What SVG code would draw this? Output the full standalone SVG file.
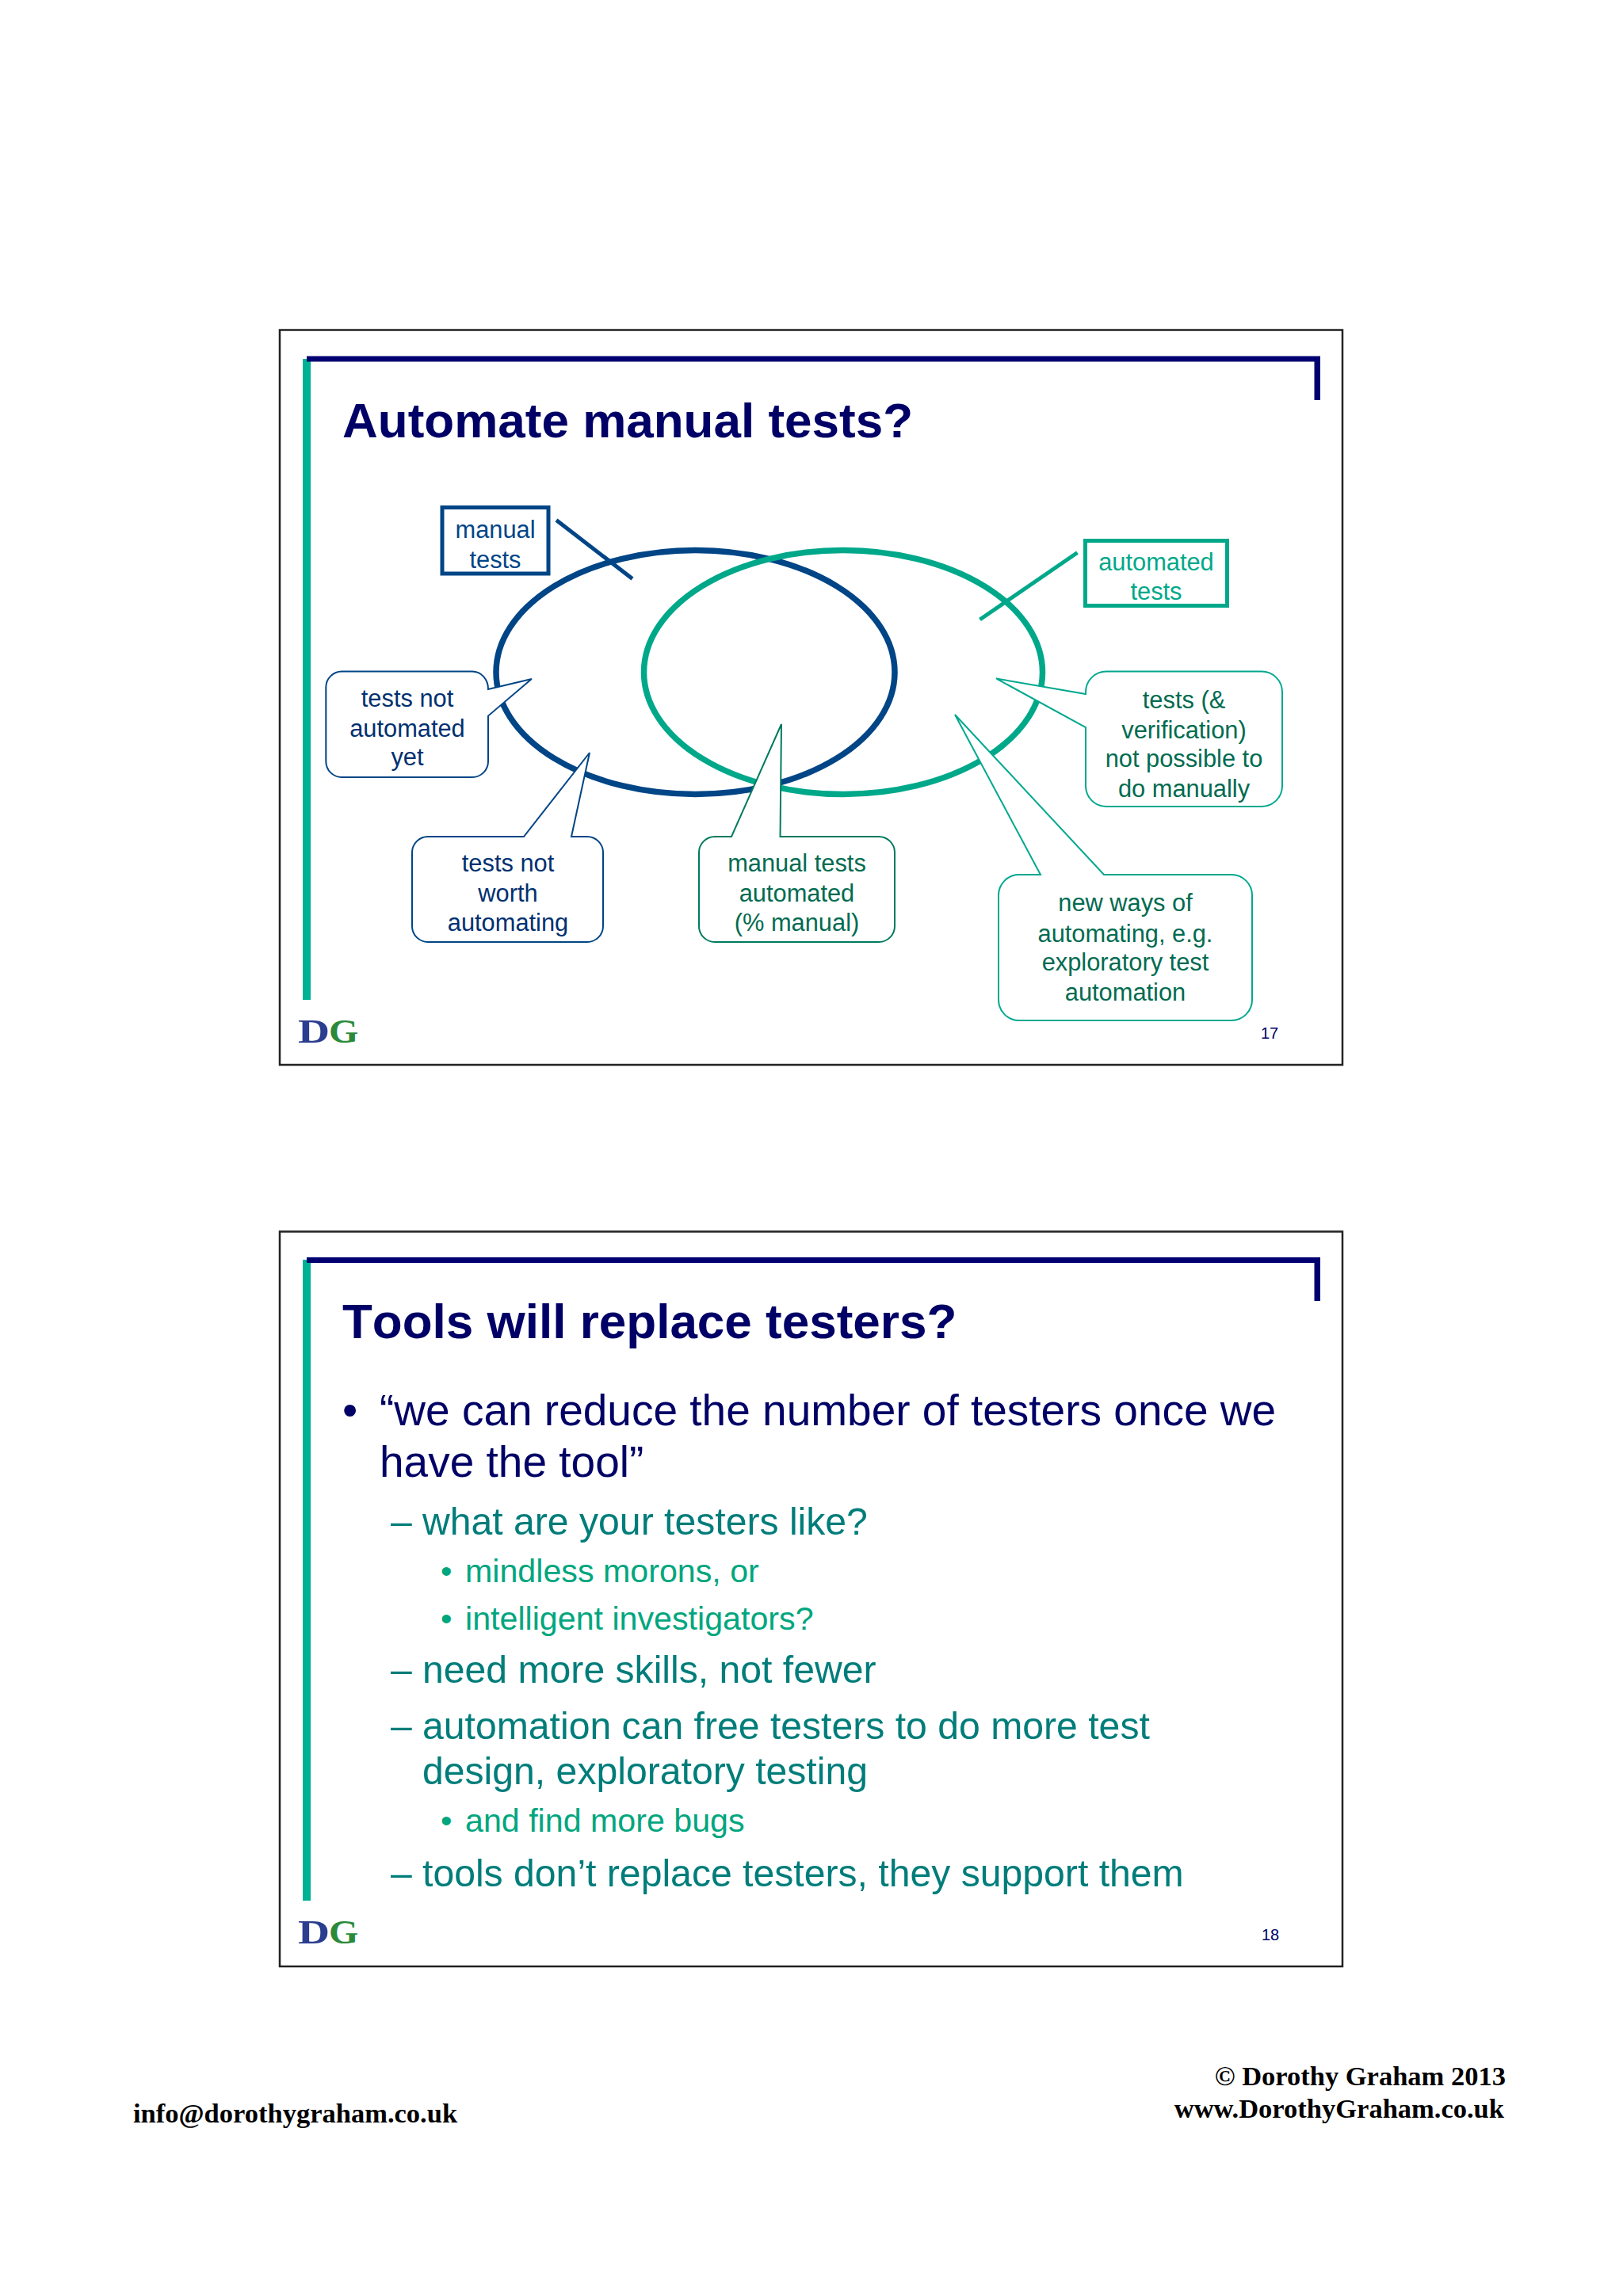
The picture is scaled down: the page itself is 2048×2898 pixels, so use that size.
<svg xmlns="http://www.w3.org/2000/svg" width="2048" height="2898" viewBox="0 0 2048 2898">
<style>
text{font-family:"Liberation Sans",Arial,sans-serif;font-kerning:none}
.frame{fill:#fff;stroke:#222;stroke-width:2.5}
.gb{fill:#00b294}
.nb{fill:#000070}
.title{font-size:62px;font-weight:bold;fill:#000066}
.num{font-size:20px;fill:#000066}
.d{font-family:"Liberation Serif","Times New Roman",serif;font-weight:bold;font-size:42px}
.foot{font-family:"Liberation Serif","Times New Roman",serif;font-weight:bold;font-size:34.5px;fill:#000;font-kerning:normal}
.c{font-size:30.8px;text-anchor:middle}
.bl{fill:#003070}.gr{fill:#006b50}
.bt{fill:#004586}.gt{fill:#00a88a}
.cb{fill:#fff;stroke:#004586;stroke-width:2}
.cg{fill:#fff;stroke:#00a88f;stroke-width:2}
.cd{fill:#fff;stroke:#007a5e;stroke-width:2}
.box{fill:#fff;stroke-width:5}
.ell{fill:none;stroke-width:7.5}
.l1{font-size:55px;fill:#000066}
.l2{font-size:48.15px;fill:#007d7a}
.l3{font-size:41.2px;fill:#00a67e}
</style>
<rect width="2048" height="2898" fill="#fff"/>
<g id="slide-17">
  <rect class="frame" x="353" y="416.5" width="1341" height="927.5"/>
  <rect class="gb" x="382" y="453" width="10" height="809"/>
  <rect class="nb" x="387" y="449.5" width="1279" height="7"/>
  <rect class="nb" x="1658.5" y="453" width="7.5" height="52"/>
  <text class="title" x="432" y="551.5">Automate manual tests?</text>
  <g id="logo-17"><text class="d" transform="translate(376 1316) scale(1.32 1)" fill="#2a3d8f">D</text><text class="d" transform="translate(415 1316) scale(1.14 1)" fill="#2a8a3a">G</text></g>
  <text class="num" x="1602" y="1311" text-anchor="middle">17</text>
</g>
<g id="ellipse-manual"><ellipse class="ell" cx="877.5" cy="848.5" rx="251.5" ry="154" stroke="#004586"/></g>
<g id="ellipse-automated"><ellipse class="ell" cx="1064" cy="848.5" rx="251.5" ry="154" stroke="#00a88a"/></g>
<g id="connectors" fill="none" stroke-width="5">
  <line x1="702" y1="656.5" x2="798" y2="730.5" stroke="#004586"/>
  <line x1="1236.5" y1="782" x2="1359.5" y2="697.5" stroke="#00a88a"/>
</g>
<g id="box-manual"><rect class="box" x="558" y="640.5" width="134" height="83.5" stroke="#004586"/><text class="c bt" x="625" y="678.5">manual</text><text class="c bt" x="625" y="716.5">tests</text></g>
<g id="box-automated"><rect class="box" x="1369.5" y="682.5" width="179" height="82" stroke="#00a88a"/><text class="c gt" x="1459" y="720">automated</text><text class="c gt" x="1459" y="757">tests</text></g>
<g id="callout-not-yet"><path class="cb" d="M431.3 847.5H596A20 22 0 0 1 616 870L670.8 857L616 903.6V961A20 20 0 0 1 596 981H431.3A20 20 0 0 1 411.3 961V867.5A20 20 0 0 1 431.3 847.5Z"/><text class="c bl" x="514" y="892">tests not</text><text class="c bl" x="514" y="929.5">automated</text><text class="c bl" x="514" y="966">yet</text></g>
<g id="callout-not-worth"><path class="cb" d="M540 1056H661L744 950L721 1056H741A20 20 0 0 1 761 1076V1169A20 20 0 0 1 741 1189H540A20 20 0 0 1 520 1169V1076A20 20 0 0 1 540 1056Z"/><text class="c bl" x="641" y="1100">tests not</text><text class="c bl" x="641" y="1138">worth</text><text class="c bl" x="641" y="1175">automating</text></g>
<g id="callout-automated"><path class="cd" d="M902 1056H923L986 914L984.5 1056H1109A20 20 0 0 1 1129 1076V1169A20 20 0 0 1 1109 1189H902A20 20 0 0 1 882 1169V1076A20 20 0 0 1 902 1056Z"/><text class="c gr" x="1005.5" y="1100">manual tests</text><text class="c gr" x="1005.5" y="1138">automated</text><text class="c gr" x="1005.5" y="1175">(% manual)</text></g>
<g id="callout-not-possible"><path class="cg" d="M1396 847.5H1592A26 26 0 0 1 1618 873.5V992A26 26 0 0 1 1592 1018H1396A26 26 0 0 1 1370 992V918L1257 856.4L1370 876V873.5A26 26 0 0 1 1396 847.5Z"/><text class="c gr" x="1494" y="894">tests (&amp;</text><text class="c gr" x="1494" y="932">verification)</text><text class="c gr" x="1494" y="968">not possible to</text><text class="c gr" x="1494" y="1006">do manually</text></g>
<g id="callout-new-ways"><path class="cg" d="M1286 1104H1313L1205 902L1393 1104H1554A26 26 0 0 1 1580 1130V1262A26 26 0 0 1 1554 1288H1286A26 26 0 0 1 1260 1262V1130A26 26 0 0 1 1286 1104Z"/><text class="c gr" x="1420" y="1150">new ways of</text><text class="c gr" x="1420" y="1188.5">automating, e.g.</text><text class="c gr" x="1420" y="1225">exploratory test</text><text class="c gr" x="1420" y="1263">automation</text></g>
<g id="slide-18">
  <rect class="frame" x="353" y="1554.5" width="1341" height="927.5"/>
  <rect class="gb" x="382" y="1590" width="10" height="809"/>
  <rect class="nb" x="387" y="1587" width="1279" height="7"/>
  <rect class="nb" x="1658.5" y="1590" width="7.5" height="52"/>
  <text class="title" x="432" y="1688.5">Tools will replace testers?</text>
  <text class="l1" x="432" y="1799">•</text>
  <text class="l1" x="479" y="1799">“we can reduce the number of testers once we</text>
  <text class="l1" x="479" y="1864">have the tool”</text>
  <text class="l2" x="493" y="1936.5">–</text><text class="l2" x="533" y="1936.5">what are your testers like?</text>
  <text class="l3" x="556" y="1997">•</text><text class="l3" x="587" y="1997">mindless morons, or</text>
  <text class="l3" x="556" y="2057">•</text><text class="l3" x="587" y="2057">intelligent investigators?</text>
  <text class="l2" x="493" y="2124">–</text><text class="l2" x="533" y="2124">need more skills, not fewer</text>
  <text class="l2" x="493" y="2195">–</text><text class="l2" x="533" y="2195">automation can free testers to do more test</text>
  <text class="l2" x="533" y="2252">design, exploratory testing</text>
  <text class="l3" x="556" y="2311.5">•</text><text class="l3" x="587" y="2311.5">and find more bugs</text>
  <text class="l2" x="493" y="2380.5">–</text><text class="l2" x="533" y="2380.5">tools don’t replace testers, they support them</text>
  <g id="logo-18"><text class="d" transform="translate(376 2453) scale(1.32 1)" fill="#2a3d8f">D</text><text class="d" transform="translate(415 2453) scale(1.14 1)" fill="#2a8a3a">G</text></g>
  <text class="num" x="1603" y="2449" text-anchor="middle">18</text>
</g>
<g id="footer">
  <text class="foot" x="168" y="2679">info@dorothygraham.co.uk</text>
  <text class="foot" x="1900" y="2632" text-anchor="end">© Dorothy Graham 2013</text>
  <text class="foot" x="1898" y="2673" text-anchor="end">www.DorothyGraham.co.uk</text>
</g>
</svg>
